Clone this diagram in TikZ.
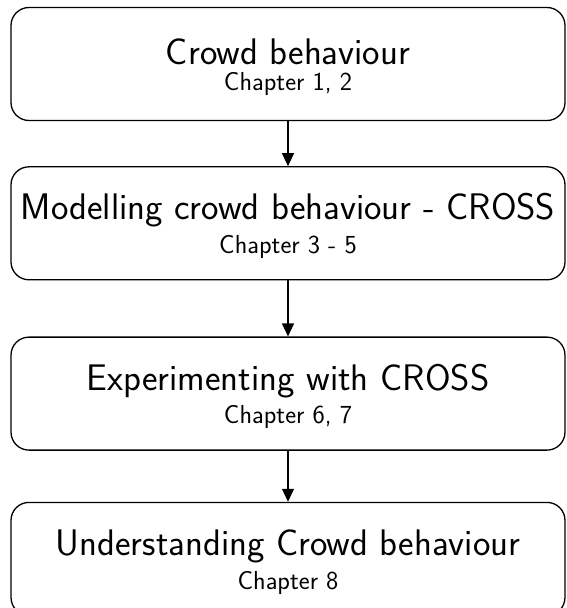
\documentclass[tikz,border=0pt]{standalone}
\usetikzlibrary{positioning, arrows.meta}

\newcommand{\titlesize}{\fontsize{37}{30}\selectfont}
\newcommand{\chaptersize}{\fontsize{26}{30}\selectfont}
\newcommand{\boxtext}[2]{\rule{0pt}{32pt}\titlesize #1\\[7pt] \chaptersize #2}

\begin{document}
\begin{tikzpicture}[x=1pt, y=1pt,
    block/.style={draw, rounded corners=18pt, line width=1.3pt,
        minimum width=554pt, minimum height=113pt, align=center,
        font=\sffamily},
    flow/.style={-{Triangle[length=13pt, width=12pt]}, line width=1.3pt}]
\useasboundingbox (0,0) rectangle (566,-608);

\node[block] (crowd) at (288,-64)
    {\boxtext{Crowd behaviour}{Chapter 1, 2}};
\node[block, below=45pt of crowd] (model)
    {\boxtext{Modelling crowd behaviour - CROSS}{Chapter 3 - 5}};
\node[block, below=56pt of model] (exper)
    {\boxtext{Experimenting with CROSS}{Chapter 6, 7}};
\node[block, below=51pt of exper] (under)
    {\boxtext{Understanding Crowd behaviour}{Chapter 8}};

\draw[flow] (crowd) -- (model);
\draw[flow] (model) -- (exper);
\draw[flow] (exper) -- (under);
\end{tikzpicture}
\end{document}
